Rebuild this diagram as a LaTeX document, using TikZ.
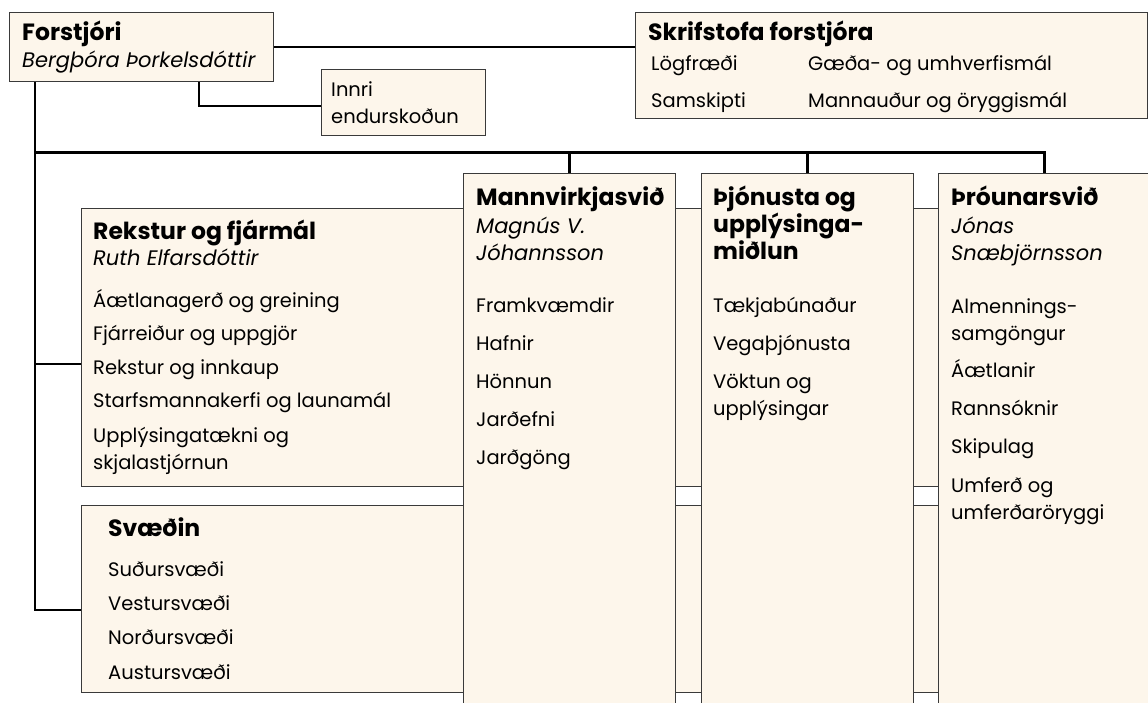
\documentclass[tikz,border=0pt]{standalone}
\usepackage{fontspec}
\setmainfont{Poppins}
\usetikzlibrary{positioning}
\definecolor{boxfill}{HTML}{FDF6EB}
\definecolor{boxline}{HTML}{3A3A3A}
\tikzset{
  unit/.style={draw=boxline,fill=boxfill,line width=1.3pt,anchor=north west,inner sep=0pt},
  link/.style={line width=2.6pt,black},
  % multi-line texts sit on the baseline of their last line
  head/.style={anchor=base west,inner sep=0pt,align=left,font=\fontsize{23.5}{27}\selectfont\bfseries},
  who/.style={anchor=base west,inner sep=0pt,align=left,font=\fontsize{21}{27}\selectfont\itshape},
  item/.style={anchor=base west,inner sep=0pt,align=left,font=\fontsize{19.5}{27}\selectfont},
}
\begin{document}
\begin{tikzpicture}[x=1pt,y=-1pt]
\useasboundingbox (0,0) rectangle (1148,703);
% boxes
\node[unit,minimum width=264pt,minimum height=69pt] (forstjori) at (9,12) {};
\node[unit,minimum width=164pt,minimum height=66pt] (innri) at (321,69) {};
\node[unit,minimum width=512pt,minimum height=106pt] (skrif) at (635,12) {};
\node[unit,minimum width=1090pt,minimum height=278pt] (rekstur) at (81,208) {};
\node[unit,minimum width=1090pt,minimum height=187pt] (svaedin) at (81,505) {};
\node[unit,minimum width=212pt,minimum height=560pt] (mannv) at (463,173) {};
\node[unit,minimum width=212pt,minimum height=560pt] (thjon) at (701,173) {};
\node[unit,minimum width=212pt,minimum height=560pt] (throun) at (938,173) {};
% connectors
\coordinate (trunk) at ([xshift=26pt]forstjori.south west);
\coordinate (bus) at ([yshift=-70pt]trunk);
\draw[link] (trunk) |- ([yshift=-105pt]svaedin.north west);
\draw[link] (trunk) |- ([yshift=-156pt]rekstur.north west);
\draw[link] (forstjori.east) -- (forstjori.east -| skrif.west);
\draw[link] ([xshift=190pt]forstjori.south west) |- ([yshift=-37pt]innri.north west);
\draw[link] (bus) -| (mannv.north);
\draw[link] (bus) -| (thjon.north);
\draw[link] (bus) -| (throun.north);
% texts
\node[head] (forstjorih) at (22,41) {Forstjóri};
\node[who] (forstjoriw) at (22,67.5) {Bergþóra Þorkelsdóttir};
\node[item] (innrit) at (331,123.5) {Innri\\endurskoðun};
\node[head] (skrifh) at (648,41) {Skrifstofa forstjóra};
\foreach \kx/\ky/\txt in {651/70.5/Lögfræði,808/70.5/Gæða- og umhverfismál,651/107.5/Samskipti,808/107.5/Mannauður og öryggismál}{\node[item] (skrif-\kx-\ky) at (\kx,\ky) {\txt};}
\node[head] (reksturh) at (93,240) {Rekstur og fjármál};
\node[who] (reksturw) at (93,265.5) {Ruth Elfarsdóttir};
\foreach \ky/\txt in {307.5/Áætlanagerð og greining,340.5/Fjárreiður og uppgjör,374.5/Rekstur og innkaup,407.5/Starfsmannakerfi og launamál,469.5/{Upplýsingatækni og\\skjalastjórnun}}{\node[item] (rekstur-\ky) at (93,\ky) {\txt};}
\node[head] (svaedinh) at (108,536) {Svæðin};
\foreach \ky/\txt in {576.5/Suðursvæði,610.5/Vestursvæði,644.5/Norðursvæði,679.5/Austursvæði}{\node[item] (svaedin-\ky) at (108,\ky) {\txt};}
\node[head] (mannvh) at (476,206) {Mannvirkjasvið};
\node[who] (mannvw) at (476,260.5) {Magnús V.\\Jóhannsson};
\foreach \k/\txt in {0/Framkvæmdir,1/Hafnir,2/Hönnun,3/Jarðefni,4/Jarðgöng}{\node[item] (mannv-\k) at (476,312.5+\k*38) {\txt};}
\node[head] (thjonh) at (713,260) {Þjónusta og\\upplýsinga-\\miðlun};
\foreach \ky/\txt in {312.5/Tækjabúnaður,350.5/Vegaþjónusta,415.5/{Vöktun og\\upplýsingar}}{\node[item] (thjon-\ky) at (713,\ky) {\txt};}
\node[head] (throunh) at (951,206) {Þróunarsvið};
\node[who] (throunw) at (951,260.5) {Jónas\\Snæbjörnsson};
\foreach \ky/\txt in {340.5/{Almennings-\\samgöngur},377.5/Áætlanir,415.5/Rannsóknir,453.5/Skipulag,519.5/{Umferð og\\umferðaröryggi}}{\node[item] (throun-\ky) at (951,\ky) {\txt};}
\end{tikzpicture}
\end{document}
